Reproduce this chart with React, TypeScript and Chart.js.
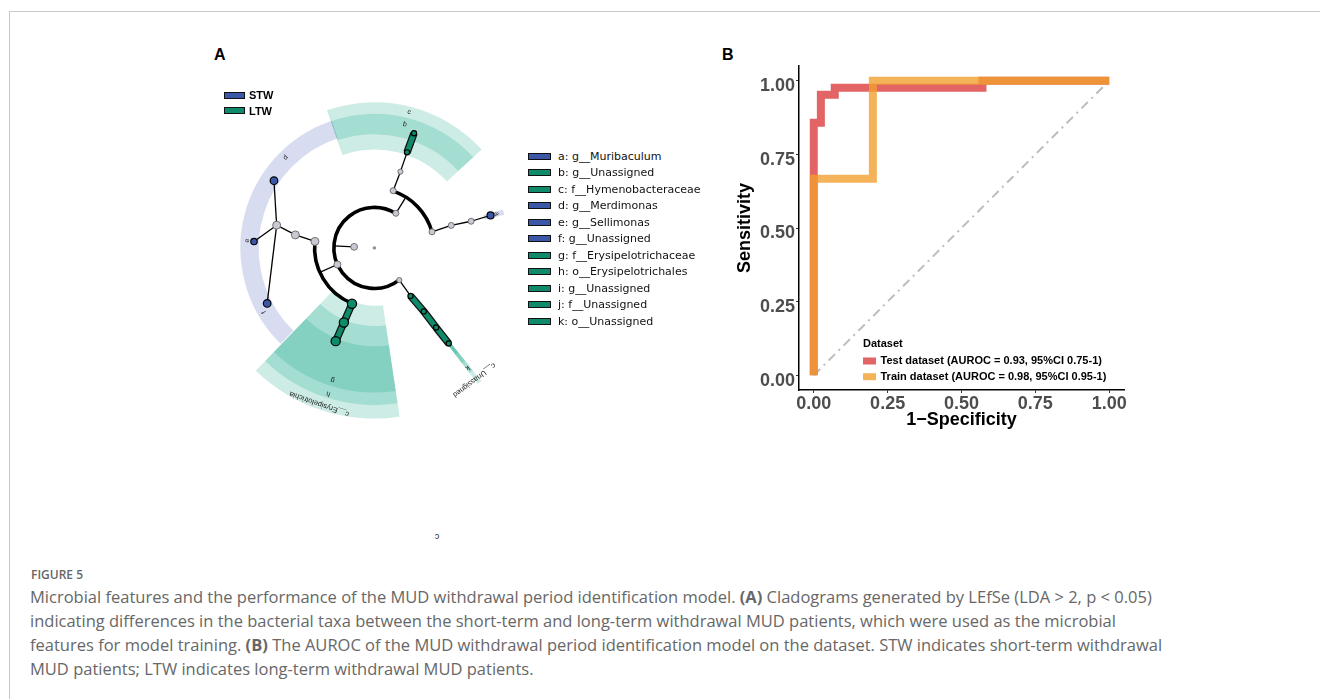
import React, { useEffect, useRef } from 'react';
import { Chart, registerables } from 'chart.js';

Chart.register(...registerables);

// ---------------- Panel B: ROC data ----------------
const X_TICKS = [0, 0.25, 0.5, 0.75, 1];
const Y_TICKS = [0, 0.25, 0.5, 0.75, 1];
const TEST_FPR = [0, 0, 0.024, 0.024, 0.071, 0.071, 0.571, 0.571, 1];
const TEST_TPR = [0, 0.857, 0.857, 0.952, 0.952, 0.976, 0.976, 1, 1];
const TRAIN_FPR = [0, 0, 0.2, 0.2, 1];
const TRAIN_TPR = [0, 0.667, 0.667, 1, 1];
const CHANCE_X = [0, 1];
const CHANCE_Y = [0, 1];
const LEGEND_TITLE = 'Dataset';
const SERIES_LABELS = [
  'Test dataset (AUROC = 0.93, 95%CI 0.75-1)',
  'Train dataset (AUROC = 0.98, 95%CI 0.95-1)',
];
const SERIES_COLORS = ['rgba(218,56,56,0.78)', 'rgba(241,160,48,0.8)'];
const X_TITLE = '1\u2212Specificity';
const Y_TITLE = 'Sensitivity';

// ---------------- Panel A: cladogram data ----------------
// radius of each taxonomic level (root, kingdom, phylum, class, order, family, genus)
const LEVEL_RADIUS = [0, 21, 42, 62, 83, 104, 125];
const NODE_PARENT = [-1, 0, 1, 1, 1, 2, 2, 5, 7, 8, 6, 10, 11, 3, 3, 13, 15, 16, 16, 16, 14, 20, 4, 22, 23, 24];
const NODE_LEVEL = [0, 1, 2, 2, 2, 3, 3, 4, 5, 6, 4, 5, 6, 3, 3, 4, 5, 6, 6, 6, 4, 5, 3, 4, 5, 6];
const NODE_ANGLE = [0, 183, 302, 156, 52, 288.3, 344.5, 289, 289, 289.2, 343.8, 344.7, 344.5, 186.2, 112, 189.3, 193, 213.6, 183, 152.8, 112.4, 112.7, 52.8, 51.9, 52, 51.9];
const NODE_GROUP = ['', '', '', '', '', '', '', '', 'LTW', 'LTW', '', '', 'STW', '', 'LTW', '', '', 'STW', 'STW', 'STW', 'LTW', 'LTW', 'LTW', 'LTW', 'LTW', 'LTW'];
const NODE_SIZE = [1.2, 3.4, 3, 3.5, 2.6, 3, 3, 2.6, 2.6, 2.6, 3, 3, 3.5, 4, 4.6, 4, 4, 3.8, 3.2, 3.8, 4.6, 4.6, 2.6, 2.6, 2.6, 2.6];

const WEDGE_START = [251, 251, 343.3, 198, 168.8, 134.4, 81.5, 81.5, 81.5, 51.2, 51.2, 51.2, 51.2];
const WEDGE_END = [317.5, 317.5, 345.7, 251.5, 198, 168.8, 134, 134, 134, 52.8, 52.8, 52.8, 52.8];
const WEDGE_INNER = [102, 118, 118, 120, 120, 120, 60, 81, 102, 60, 81, 102, 118];
const WEDGE_OUTER = [151, 139, 139, 139, 139, 139, 177, 163, 150, 177, 163, 150, 139];
const WEDGE_GROUP = ['LTW', 'LTW', 'STW', 'STW', 'STW', 'STW', 'LTW', 'LTW', 'LTW', 'LTW', 'LTW', 'LTW', 'LTW'];

const CLADE_LABEL_TEXT = ['c', 'b', 'a', 'd', 'e', 'f', 'g', 'h', 'c__Erysipelotrichia', 'k', 'c__Unassigned'];
const CLADE_LABEL_RADIUS = [144.5, 131, 131.5, 131, 132, 132, 143, 157.5, 170.5, 157, 171];
const CLADE_LABEL_ANGLE = [284.5, 284, 344.6, 225.3, 183.2, 150, 107.6, 107.7, 109.6, 52, 52.7];
const CLADE_LABEL_SIZE = [7, 7, 7, 7, 7, 7, 7, 7, 7.5, 7, 7.5];

const GROUP_NAMES = ['STW', 'LTW'];
const GROUP_COLOR: Record<string, string> = { STW: '#3b57a7', LTW: '#0f8a6b' };
const GROUP_SHADE: Record<string, string> = { STW: 'rgba(60,80,180,0.2)', LTW: 'rgba(0,160,125,0.2)' };

const CLADE_KEYS = [
  'a: g__Muribaculum',
  'b: g__Unassigned',
  'c: f__Hymenobacteraceae',
  'd: g__Merdimonas',
  'e: g__Sellimonas',
  'f: g__Unassigned',
  'g: f__Erysipelotrichaceae',
  'h: o__Erysipelotrichales',
  'i: g__Unassigned',
  'j: f__Unassigned',
  'k: o__Unassigned',
];
const CLADE_KEY_GROUP = ['STW', 'LTW', 'LTW', 'STW', 'STW', 'STW', 'LTW', 'LTW', 'LTW', 'LTW', 'LTW'];

const ARIAL = '"Liberation Sans", Arial, Helvetica, sans-serif';

const rad = (d: number) => (d * Math.PI) / 180;

function RocChart() {
  const ref = useRef<HTMLCanvasElement>(null);
  useEffect(() => {
    if (!ref.current) return;
    const legendPlugin = {
      id: 'rocLegend',
      afterDatasetsDraw(chart: any) {
        const { ctx, chartArea } = chart;
        const x0 = chartArea.left + 64;
        ctx.save();
        ctx.font = `bold 11px ${ARIAL}`;
        ctx.textBaseline = 'middle';
        ctx.textAlign = 'left';
        ctx.fillStyle = '#000';
        ctx.fillText(LEGEND_TITLE, x0, chartArea.bottom - 46);
        SERIES_LABELS.forEach((lab, i) => {
          const cy = chartArea.bottom - 29 + i * 15.7;
          ctx.fillStyle = SERIES_COLORS[i];
          ctx.fillRect(x0, cy - 3.5, 13, 7);
          ctx.fillStyle = '#000';
          ctx.fillText(lab, x0 + 17.5, cy);
        });
        ctx.restore();
      },
    };
    const tickFont = { family: ARIAL, size: 18, weight: 'bold' as const };
    const titleFont = { family: ARIAL, size: 18, weight: 'bold' as const };
    const lineDs = (xs: number[], ys: number[], color: string) => ({
      data: xs.map((x, i) => ({ x, y: ys[i] })),
      borderColor: color,
      backgroundColor: color,
      borderWidth: 8,
      pointRadius: 0,
      tension: 0,
      fill: false,
      borderJoinStyle: 'miter' as const,
      borderCapStyle: 'butt' as const,
    });
    const chart = new Chart(ref.current, {
      type: 'line',
      data: {
        datasets: [
          { label: SERIES_LABELS[1], ...lineDs(TRAIN_FPR, TRAIN_TPR, SERIES_COLORS[1]) },
          { label: SERIES_LABELS[0], ...lineDs(TEST_FPR, TEST_TPR, SERIES_COLORS[0]) },
          {
            label: 'chance',
            data: CHANCE_X.map((x, i) => ({ x, y: CHANCE_Y[i] })),
            borderColor: '#bdbdbd',
            borderWidth: 2,
            borderDash: [9, 5, 2, 5],
            pointRadius: 0,
            fill: false,
          },
        ],
      },
      options: {
        responsive: false,
        animation: false,
        events: [],
        layout: { padding: { top: 36, right: 36, left: 0, bottom: 0 } },
        plugins: { legend: { display: false }, tooltip: { enabled: false } },
        scales: {
          x: {
            type: 'linear',
            min: -0.05,
            max: 1.05,
            afterBuildTicks: (s: any) => {
              s.ticks = X_TICKS.map((v) => ({ value: v }));
            },
            afterFit: (s: any) => {
              s.height = 60;
            },
            ticks: {
              callback: (v: any) => Number(v).toFixed(2),
              font: tickFont,
              color: '#4d4d4d',
              padding: 0,
              maxRotation: 0,
              autoSkip: false,
            },
            grid: { display: true, drawOnChartArea: false, drawTicks: true, tickLength: 3, color: '#333', lineWidth: 1 },
            border: { display: true, color: '#000', width: 1.5 },
            title: { display: true, text: X_TITLE, font: titleFont, color: '#000', padding: { top: 0, bottom: 19 } },
          },
          y: {
            type: 'linear',
            min: -0.05,
            max: 1.05,
            afterBuildTicks: (s: any) => {
              s.ticks = Y_TICKS.map((v) => ({ value: v }));
            },
            afterFit: (s: any) => {
              s.width = 99;
            },
            ticks: {
              callback: (v: any) => Number(v).toFixed(2),
              font: tickFont,
              color: '#4d4d4d',
              padding: 1,
              labelOffset: 5.5,
              autoSkip: false,
            },
            grid: { display: true, drawOnChartArea: false, drawTicks: true, tickLength: 3, color: '#333', lineWidth: 1 },
            border: { display: true, color: '#000', width: 1.5 },
            title: { display: true, text: Y_TITLE, font: titleFont, color: '#000', padding: { top: 34, bottom: 0 } },
          },
        },
      },
      plugins: [legendPlugin],
    } as any);
    return () => chart.destroy();
  }, []);
  return (
    <canvas
      ref={ref}
      width={460}
      height={420}
      style={{ position: 'absolute', left: 700, top: 30, width: 460, height: 420 }}
    />
  );
}

function CladogramChart() {
  const ref = useRef<HTMLCanvasElement>(null);
  useEffect(() => {
    if (!ref.current) return;
    const nodeXY = NODE_LEVEL.map((lv, i) => ({
      x: LEVEL_RADIUS[lv] * Math.cos(rad(NODE_ANGLE[i])),
      y: LEVEL_RADIUS[lv] * Math.sin(rad(NODE_ANGLE[i])),
    }));
    const cladoPlugin = {
      id: 'clado',
      beforeDatasetsDraw(chart: any) {
        const { ctx } = chart;
        const sx = chart.scales.x;
        const sy = chart.scales.y;
        const cx = sx.getPixelForValue(0);
        const cy = sy.getPixelForValue(0);
        const k = sx.getPixelForValue(1) - cx;
        const P = (r: number, deg: number) => [
          sx.getPixelForValue(r * Math.cos(rad(deg))),
          sy.getPixelForValue(r * Math.sin(rad(deg))),
        ];
        ctx.save();
        // shaded clade sectors
        WEDGE_START.forEach((a0, i) => {
          ctx.beginPath();
          ctx.arc(cx, cy, WEDGE_OUTER[i] * k, rad(a0), rad(WEDGE_END[i]));
          ctx.arc(cx, cy, WEDGE_INNER[i] * k, rad(WEDGE_END[i]), rad(a0), true);
          ctx.closePath();
          ctx.fillStyle = GROUP_SHADE[WEDGE_GROUP[i]];
          ctx.fill();
        });
        // edges
        const children: number[][] = NODE_PARENT.map(() => []);
        NODE_PARENT.forEach((p, i) => {
          if (p >= 0) children[p].push(i);
        });
        const bars: [number, number][] = [];
        ctx.strokeStyle = '#000';
        ctx.lineCap = 'butt';
        children.forEach((ch, p) => {
          if (!ch.length || NODE_LEVEL[p] === 0) return;
          const lp = NODE_LEVEL[p];
          if (lp <= 2 && ch.length >= 2) {
            const rc = LEVEL_RADIUS[NODE_LEVEL[ch[0]]];
            const angs = ch.map((c) => NODE_ANGLE[c]);
            const a0 = Math.min(...angs);
            const a1 = Math.max(...angs);
            const [x1, y1] = P(LEVEL_RADIUS[lp], NODE_ANGLE[p]);
            const [x2, y2] = P(rc, NODE_ANGLE[p]);
            ctx.lineWidth = 1.3;
            ctx.beginPath();
            ctx.moveTo(x1, y1);
            ctx.lineTo(x2, y2);
            ctx.stroke();
            ctx.lineWidth = 3.6;
            ctx.beginPath();
            ctx.arc(cx, cy, rc * k, rad(a0), rad(a1));
            ctx.stroke();
          } else {
            ch.forEach((c) => {
              if (NODE_GROUP[p] && NODE_GROUP[p] === NODE_GROUP[c]) {
                bars.push([p, c]);
                return;
              }
              const [x1, y1] = P(LEVEL_RADIUS[lp], NODE_ANGLE[p]);
              const [x2, y2] = P(LEVEL_RADIUS[NODE_LEVEL[c]], NODE_ANGLE[c]);
              ctx.lineWidth = 1.3;
              ctx.beginPath();
              ctx.moveTo(x1, y1);
              ctx.lineTo(x2, y2);
              ctx.stroke();
            });
          }
        });
        bars.forEach(([p, c]) => {
          const [x1, y1] = P(LEVEL_RADIUS[NODE_LEVEL[p]], NODE_ANGLE[p]);
          const [x2, y2] = P(LEVEL_RADIUS[NODE_LEVEL[c]], NODE_ANGLE[c]);
          ctx.strokeStyle = '#111';
          ctx.lineWidth = 7.5;
          ctx.beginPath();
          ctx.moveTo(x1, y1);
          ctx.lineTo(x2, y2);
          ctx.stroke();
          ctx.strokeStyle = GROUP_COLOR[NODE_GROUP[c]];
          ctx.lineWidth = 5;
          ctx.beginPath();
          ctx.moveTo(x1, y1);
          ctx.lineTo(x2, y2);
          ctx.stroke();
        });
        ctx.restore();
      },
      afterDatasetsDraw(chart: any) {
        const { ctx } = chart;
        const sx = chart.scales.x;
        const sy = chart.scales.y;
        ctx.save();
        ctx.fillStyle = '#222';
        ctx.textAlign = 'center';
        ctx.textBaseline = 'middle';
        CLADE_LABEL_TEXT.forEach((t, i) => {
          const r = CLADE_LABEL_RADIUS[i];
          const a = CLADE_LABEL_ANGLE[i];
          const px = sx.getPixelForValue(r * Math.cos(rad(a)));
          const py = sy.getPixelForValue(r * Math.sin(rad(a)));
          ctx.save();
          ctx.translate(px, py);
          ctx.rotate(rad(a + 90));
          ctx.font = `${CLADE_LABEL_SIZE[i]}px ${ARIAL}`;
          ctx.fillText(t, 0, 0);
          ctx.restore();
        });
        ctx.restore();
      },
    };
    const chart = new Chart(ref.current, {
      type: 'scatter',
      data: {
        datasets: [
          {
            data: nodeXY,
            pointRadius: NODE_SIZE,
            pointBackgroundColor: NODE_GROUP.map((g) => (g ? GROUP_COLOR[g] : '#c9c9d3')),
            pointBorderColor: NODE_GROUP.map((g) => (g ? '#000' : '#666')),
            pointBorderWidth: NODE_GROUP.map((g) => (g ? 1.2 : 0.9)),
            showLine: false,
            clip: false,
          },
        ],
      },
      options: {
        responsive: false,
        animation: false,
        events: [],
        layout: { padding: 0 },
        plugins: { legend: { display: false }, tooltip: { enabled: false } },
        scales: {
          x: { type: 'linear', display: false, min: -180, max: 145 },
          y: { type: 'linear', display: false, min: -208, max: 202, reverse: true },
        },
      },
      plugins: [cladoPlugin],
    } as any);
    return () => chart.destroy();
  }, []);
  return (
    <canvas
      ref={ref}
      width={325}
      height={410}
      style={{ position: 'absolute', left: 195, top: 40, width: 325, height: 410 }}
    />
  );
}

const panelLetter: React.CSSProperties = {
  position: 'absolute',
  fontFamily: ARIAL,
  fontWeight: 'bold',
  fontSize: 16,
  lineHeight: '16px',
  color: '#000',
};

const CAPTION_LINES: React.ReactNode[] = [
  <>Microbial features and the performance of the MUD withdrawal period identification model. <b>(A)</b> Cladograms generated by LEfSe (LDA &gt; 2, p &lt; 0.05)</>,
  <>indicating differences in the bacterial taxa between the short-term and long-term withdrawal MUD patients, which were used as the microbial</>,
  <>features for model training. <b>(B)</b> The AUROC of the MUD withdrawal period identification model on the dataset. STW indicates short-term withdrawal</>,
  <>MUD patients; LTW indicates long-term withdrawal MUD patients.</>,
];

export default function App() {
  return (
    <div style={{ position: 'absolute', left: 0, top: 0, width: 1320, height: 699, overflow: 'hidden', background: '#fff' }}>
      <div
        style={{
          position: 'absolute',
          left: 9,
          top: 11,
          right: 0,
          bottom: 0,
          borderTop: '1px solid #c8c8c8',
          borderLeft: '1px solid #c8c8c8',
        }}
      />
      <div style={{ ...panelLetter, left: 214, top: 47 }}>A</div>
      <div style={{ ...panelLetter, left: 722, top: 47 }}>B</div>

      <CladogramChart />
      <RocChart />

      {/* STW / LTW key */}
      {GROUP_NAMES.map((g, i) => (
        <div
          key={g}
          style={{ position: 'absolute', left: 224, top: 88 + i * 15.5, height: 14, display: 'flex', alignItems: 'center' }}
        >
          <div style={{ width: 19, height: 5, background: GROUP_COLOR[g], border: '1.5px solid #111' }} />
          <span style={{ marginLeft: 4, fontFamily: ARIAL, fontWeight: 'bold', fontSize: 11, color: '#000' }}>{g}</span>
        </div>
      ))}

      {/* clade key */}
      {CLADE_KEYS.map((t, i) => (
        <div
          key={t}
          style={{ position: 'absolute', left: 528, top: 149 + i * 16.5, height: 14, display: 'flex', alignItems: 'center' }}
        >
          <div style={{ width: 21, height: 5, background: GROUP_COLOR[CLADE_KEY_GROUP[i]], border: '1.5px solid #111' }} />
          <span
            style={{ marginLeft: 7, fontFamily: '"DejaVu Sans", Verdana, sans-serif', fontSize: 11, color: '#111', whiteSpace: 'nowrap' }}
          >
            {t}
          </span>
        </div>
      ))}

      {/* stray rotated label from the original figure */}
      <div
        style={{
          position: 'absolute',
          left: 432,
          top: 531,
          width: 10,
          height: 12,
          fontFamily: ARIAL,
          fontSize: 9,
          lineHeight: '12px',
          textAlign: 'center',
          transform: 'rotate(180deg)',
          color: '#222',
        }}
      >
        c
      </div>

      {/* caption */}
      <div
        style={{
          position: 'absolute',
          left: 31,
          top: 567,
          fontFamily: '"Open Sans", "Noto Sans", sans-serif',
          fontSize: 12,
          lineHeight: '16px',
          color: '#666',
          fontWeight: 600,
        }}
      >
        FIGURE 5
      </div>
      <div
        style={{
          position: 'absolute',
          left: 30,
          top: 585,
          fontFamily: '"Open Sans", "Noto Sans", sans-serif',
          fontSize: 16.5,
          lineHeight: '24px',
          color: '#676767',
          whiteSpace: 'nowrap',
        }}
      >
        {CAPTION_LINES.map((l, i) => (
          <div key={i}>{l}</div>
        ))}
      </div>
    </div>
  );
}
